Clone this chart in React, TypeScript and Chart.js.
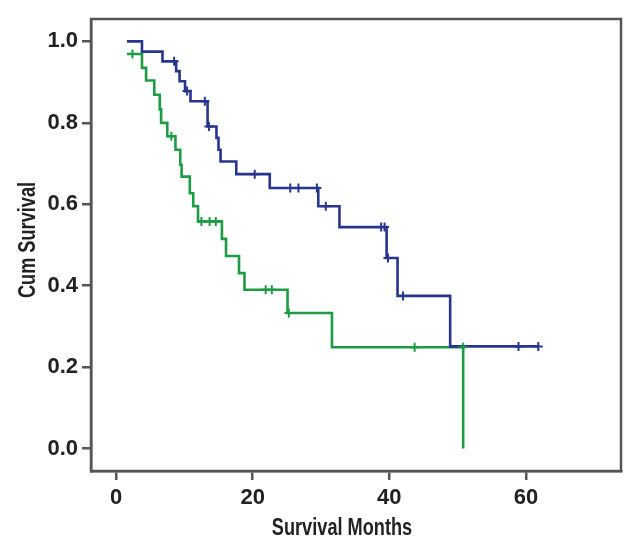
import React, { useEffect, useRef } from 'react';
import { Chart, registerables } from 'chart.js';

Chart.register(...registerables);

// ---- data ----
const xTicks = [0, 20, 40, 60];
const yTicks = [0, 0.2, 0.4, 0.6, 0.8, 1.0];
const xTitle = 'Survival Months';
const yTitle = 'Cum Survival';

// Blue group: step times (months) and survival after each step
const blueTimes = [1.6, 3.8, 6.8, 8.8, 9.3, 10.1, 10.9, 13.4, 14.7, 15.0, 15.3, 17.6, 22.5, 29.6, 32.7, 39.6, 41.2, 48.9, 61.8];
const blueSurv = [1.0, 0.975, 0.951, 0.927, 0.902, 0.878, 0.853, 0.791, 0.763, 0.734, 0.705, 0.674, 0.640, 0.595, 0.544, 0.468, 0.375, 0.251, 0.251];
const blueCensorTimes = [8.5, 10.4, 13.0, 13.6, 20.3, 25.5, 26.7, 29.4, 30.7, 38.8, 39.3, 39.8, 42.0, 58.9, 61.8];
const blueCensorSurv = [0.951, 0.878, 0.853, 0.791, 0.674, 0.640, 0.640, 0.640, 0.595, 0.544, 0.544, 0.468, 0.375, 0.251, 0.251];

// Green group
const greenTimes = [1.6, 3.8, 4.4, 5.6, 6.4, 6.6, 7.5, 8.7, 9.4, 9.6, 10.8, 11.3, 12.0, 15.5, 16.1, 18.0, 18.8, 25.1, 31.6, 50.8];
const greenSurv = [0.969, 0.935, 0.904, 0.869, 0.833, 0.800, 0.767, 0.734, 0.697, 0.668, 0.627, 0.595, 0.558, 0.515, 0.473, 0.431, 0.390, 0.333, 0.249, 0.0];
const greenCensorTimes = [2.4, 8.1, 12.5, 13.7, 14.6, 21.9, 22.8, 25.3, 43.7, 50.8];
const greenCensorSurv = [0.969, 0.767, 0.558, 0.558, 0.558, 0.390, 0.390, 0.333, 0.249, 0.249];

const BLUE = '#27358f';
const GREEN = '#1f9b45';
const AXIS = '#555555';
const TEXT = '#222222';
const FONT_FAMILY = '"Liberation Sans", Arial, sans-serif';

const pts = (xs: number[], ys: number[]) => xs.map((x, i) => ({ x, y: ys[i] }));

const framePlugin = {
  id: 'frameAndTitles',
  afterDraw(chart: any) {
    const { ctx, chartArea } = chart;
    ctx.save();
    ctx.strokeStyle = AXIS;
    ctx.lineWidth = 2.5;
    ctx.strokeRect(chartArea.left, chartArea.top, chartArea.right - chartArea.left, chartArea.bottom - chartArea.top);
    ctx.fillStyle = TEXT;
    ctx.font = `bold 23px ${FONT_FAMILY}`;
    ctx.textAlign = 'center';
    ctx.textBaseline = 'alphabetic';
    // x axis title (horizontally condensed)
    ctx.save();
    ctx.translate(342, 535);
    ctx.scale(0.79, 1);
    ctx.fillText(xTitle, 0, 0);
    ctx.restore();
    // y axis title
    ctx.save();
    ctx.translate(35, 240);
    ctx.rotate(-Math.PI / 2);
    ctx.scale(0.79, 1);
    ctx.fillText(yTitle, 0, 0);
    ctx.restore();
    ctx.restore();
  },
};

export default function App() {
  const ref = useRef<HTMLCanvasElement | null>(null);
  useEffect(() => {
    if (!ref.current) return;
    const tickFont = { family: FONT_FAMILY, size: 22, weight: 'bold' };
    const chart = new Chart(ref.current, {
      type: 'scatter',
      data: {
        datasets: [
          {
            data: pts(blueCensorTimes, blueCensorSurv),
            showLine: false,
            pointStyle: 'cross',
            pointRadius: 4.5,
            pointBorderWidth: 2,
            borderColor: BLUE,
            backgroundColor: BLUE,
          },
          {
            data: pts(greenCensorTimes, greenCensorSurv),
            showLine: false,
            pointStyle: 'cross',
            pointRadius: 4.5,
            pointBorderWidth: 2,
            borderColor: GREEN,
            backgroundColor: GREEN,
          },
          {
            data: pts(blueTimes, blueSurv),
            showLine: true,
            stepped: 'before',
            borderColor: BLUE,
            borderWidth: 2.6,
            pointRadius: 0,
            fill: false,
          },
          {
            data: pts(greenTimes, greenSurv),
            showLine: true,
            stepped: 'before',
            borderColor: GREEN,
            borderWidth: 2.6,
            pointRadius: 0,
            fill: false,
          },
        ] as any,
      },
      options: {
        responsive: false,
        animation: false,
        devicePixelRatio: 1,
        layout: { padding: { top: 19, right: 19, left: 0, bottom: 0 } },
        plugins: { legend: { display: false }, tooltip: { enabled: false } },
        scales: {
          x: {
            type: 'linear',
            min: -3.66,
            max: 73.9,
            afterBuildTicks: (axis: any) => {
              axis.ticks = xTicks.map((v) => ({ value: v }));
            },
            afterFit: (s: any) => {
              s.height = 82;
            },
            ticks: { font: tickFont, color: TEXT, padding: 5, maxRotation: 0, autoSkip: false },
            grid: { drawOnChartArea: false, drawTicks: true, tickLength: 9, color: AXIS, lineWidth: 2.5 },
            border: { display: true, color: AXIS, width: 2.5 },
          },
          y: {
            type: 'linear',
            min: -0.055,
            max: 1.055,
            afterBuildTicks: (axis: any) => {
              axis.ticks = yTicks.map((v) => ({ value: v }));
            },
            afterFit: (s: any) => {
              s.width = 91;
            },
            ticks: {
              font: tickFont,
              color: TEXT,
              padding: 4,
              autoSkip: false,
              callback: (v: any) => Number(v).toFixed(1),
            },
            grid: { drawOnChartArea: false, drawTicks: true, tickLength: 9, color: AXIS, lineWidth: 2.5 },
            border: { display: true, color: AXIS, width: 2.5 },
          },
        },
      } as any,
      plugins: [framePlugin],
    });
    return () => chart.destroy();
  }, []);

  return (
    <div style={{ position: 'fixed', left: 0, top: 0, width: 640, height: 553, background: '#fff' }}>
      <canvas ref={ref} width={640} height={553} style={{ display: 'block', width: 640, height: 553 }} />
    </div>
  );
}
